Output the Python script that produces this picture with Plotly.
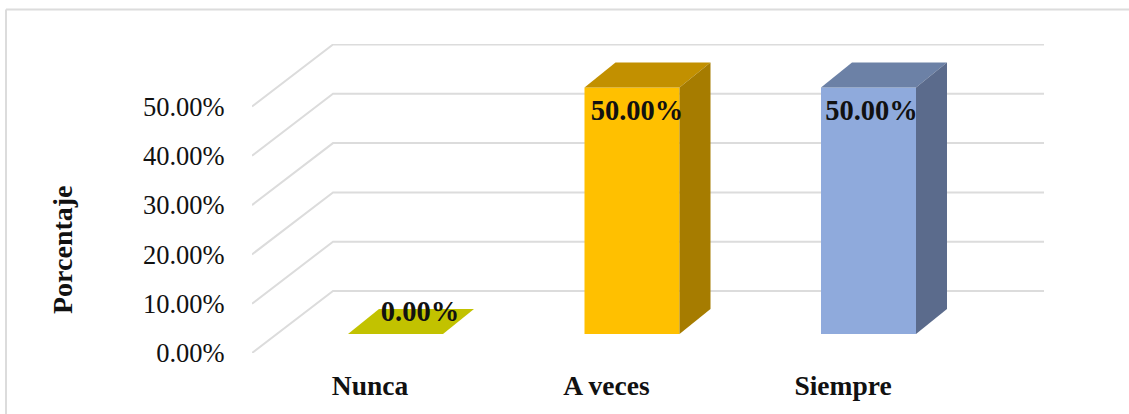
import plotly.graph_objects as go

categories = ["Nunca", "A veces", "Siempre"]
values = [0.0, 50.0, 50.0]
y_ticks = [0, 10, 20, 30, 40, 50]

front_colors = ["#C2C200", "#FFC000", "#8FAADC"]
top_colors = ["#C2C200", "#C29000", "#6C81A6"]
side_colors = ["#A3A300", "#A67C00", "#5B6B8C"]

# pixel geometry of the plot frame
W, H = 1129, 414
L, R, T, B = 252, 1044, 44, 353
PX_PER_CAT = 236.5
CAT0_PX = 395.5
PX_PER_UNIT = 4.93

x_lo = (L - CAT0_PX) / PX_PER_CAT
x_hi = (R - CAT0_PX) / PX_PER_CAT
y_hi = (B - T) / PX_PER_UNIT

wall_dx = (333 - L) / PX_PER_CAT
wall_dy = 62 / PX_PER_UNIT
bar_w = 95 / PX_PER_CAT
bar_base = 19 / PX_PER_UNIT
depth_dx = 31 / PX_PER_CAT
depth_dy = 25 / PX_PER_UNIT
label_dx = [24.5 / PX_PER_CAT, 5 / PX_PER_CAT, 3 / PX_PER_CAT]
tick_shift = -25.5 / PX_PER_CAT

GRID = "#DCDCDC"
FONT = "Liberation Serif"
TEXT = "#111111"

fig = go.Figure()

# gridlines: side wall + back wall (main subplot, underneath)
for v in y_ticks:
    fig.add_trace(go.Scatter(
        x=[x_lo, x_lo + wall_dx, x_hi],
        y=[v, v + wall_dy, v + wall_dy],
        mode="lines", line=dict(color=GRID, width=2),
        hoverinfo="skip", showlegend=False, cliponaxis=False))

xs = list(range(len(categories)))

# front faces (overlay subplot, above the gridlines)
fig.add_trace(go.Bar(
    x=xs, y=values, base=[bar_base] * len(values), width=bar_w,
    marker=dict(color=front_colors, line=dict(width=0)),
    xaxis="x2", yaxis="y2",
    showlegend=False, hoverinfo="skip"))

# top and side faces
for i, v in zip(xs, values):
    xl, xr = i - bar_w / 2, i + bar_w / 2
    y0, y1 = bar_base, bar_base + v
    fig.add_trace(go.Scatter(
        x=[xl, xr, xr + depth_dx, xl + depth_dx, xl],
        y=[y1, y1, y1 + depth_dy, y1 + depth_dy, y1],
        mode="lines", fill="toself", fillcolor=top_colors[i],
        line=dict(width=0, color=top_colors[i]),
        xaxis="x2", yaxis="y2",
        hoverinfo="skip", showlegend=False))
    if v > 0:
        fig.add_trace(go.Scatter(
            x=[xr, xr + depth_dx, xr + depth_dx, xr, xr],
            y=[y0, y0 + depth_dy, y1 + depth_dy, y1, y0],
            mode="lines", fill="toself", fillcolor=side_colors[i],
            line=dict(width=0, color=side_colors[i]),
            xaxis="x2", yaxis="y2",
            hoverinfo="skip", showlegend=False))

# data labels
fig.add_trace(go.Scatter(
    x=[i + label_dx[i] for i in xs],
    y=[bar_base + v + (-5.1 if v > 0 else 4.1) for v in values],
    text=[f"{v:.2f}%" for v in values],
    mode="text", textposition="middle center",
    textfont=dict(family=FONT, size=28.5, color=TEXT),
    texttemplate="<b>%{text}</b>",
    xaxis="x2", yaxis="y2",
    hoverinfo="skip", showlegend=False, cliponaxis=False))

fig.update_layout(
    width=W, height=H,
    margin=dict(l=L, r=W - R, t=T, b=H - B, autoexpand=False),
    paper_bgcolor="white", plot_bgcolor="rgba(0,0,0,0)",
    font=dict(family=FONT, color=TEXT),
    xaxis=dict(
        range=[x_lo, x_hi], showgrid=False, zeroline=False, showline=False,
        tickmode="array", tickvals=[i + tick_shift for i in xs],
        ticktext=[f"<b>{c}</b>" for c in categories],
        tickfont=dict(family=FONT, size=27.5, color=TEXT),
        ticks="outside", ticklen=8, tickcolor="rgba(0,0,0,0)"),
    yaxis=dict(
        range=[0, y_hi], showgrid=False, zeroline=False, showline=False,
        tickmode="array", tickvals=y_ticks,
        ticktext=[f"{v:.2f}%" for v in y_ticks],
        tickfont=dict(family=FONT, size=26.5, color=TEXT),
        ticks="outside", ticklen=21, tickcolor="rgba(0,0,0,0)"),
    xaxis2=dict(range=[x_lo, x_hi], overlaying="x", visible=False),
    yaxis2=dict(range=[0, y_hi], overlaying="y", visible=False),
    annotations=[dict(
        text="<b>Porcentaje</b>", textangle=-90,
        xref="paper", yref="paper",
        x=(62 - L) / (R - L), y=(B - 250) / (B - T),
        xanchor="center", yanchor="middle", showarrow=False,
        font=dict(family=FONT, size=28, color=TEXT))],
    shapes=[
        dict(type="line", xref="paper", yref="paper",
             x0=(6 - L) / (R - L), x1=(W - L) / (R - L),
             y0=(B - 9.5) / (B - T), y1=(B - 9.5) / (B - T),
             line=dict(color=GRID, width=2)),
        dict(type="line", xref="paper", yref="paper",
             x0=(6 - L) / (R - L), x1=(6 - L) / (R - L),
             y0=(B - 9.5) / (B - T), y1=(B - H) / (B - T),
             line=dict(color=GRID, width=2)),
    ],
)

fig.write_html("out.html", config={"displayModeBar": False},
               post_script="document.body.style.margin='0';")
